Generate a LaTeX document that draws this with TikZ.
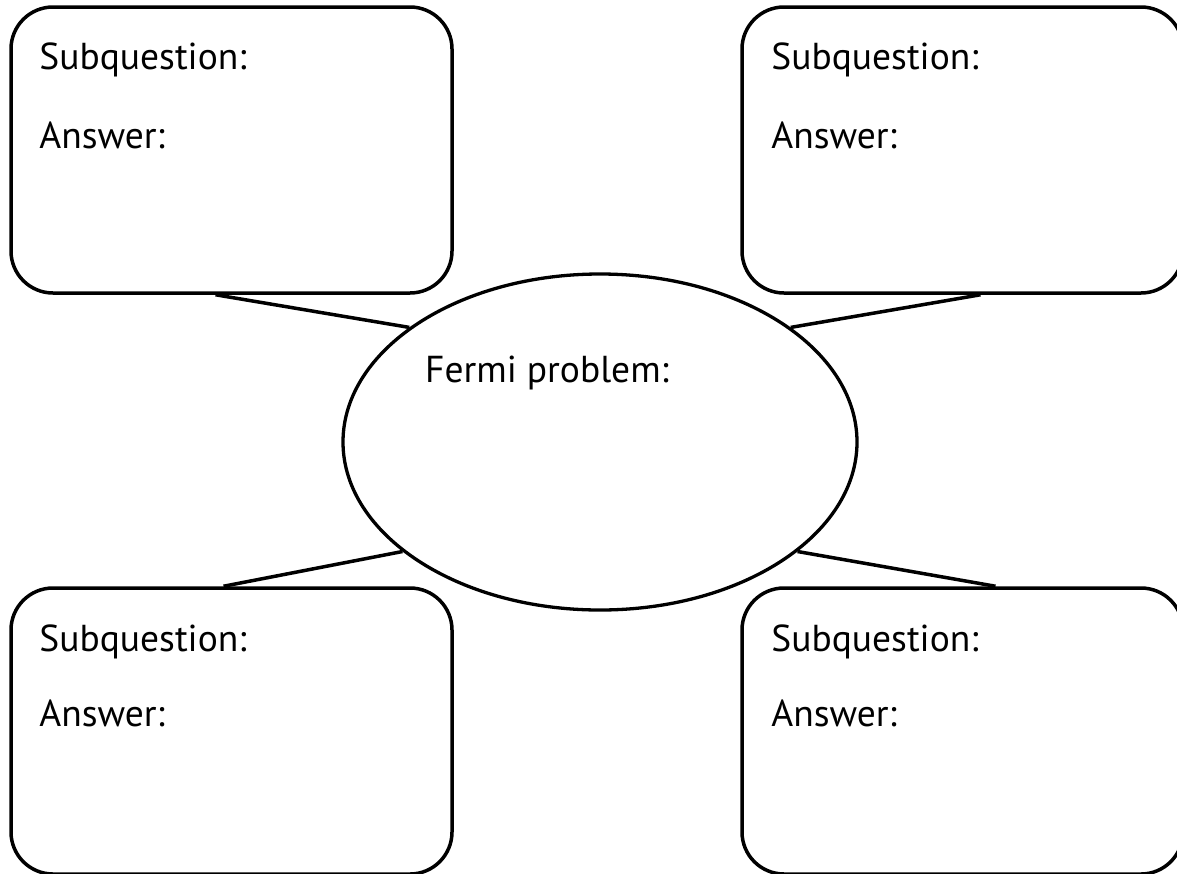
\documentclass[tikz,border=0pt]{standalone}
\usepackage{fontspec}
\setmainfont{PT Sans}
\usetikzlibrary{shapes.geometric, positioning, calc}

\begin{document}
\begin{tikzpicture}[
  x=1pt, y=-1pt,
  subbox/.style={rectangle, rounded corners=42pt, draw=black, line width=3.5pt,
                 minimum width=441pt, minimum height=286pt, inner sep=0pt},
  fermiellipse/.style={ellipse, draw=black, line width=3.3pt,
                 minimum width=514pt, minimum height=336pt, inner sep=0pt},
  boxtext/.style={anchor=base west, inner sep=0pt, font=\fontsize{37.5}{45}\selectfont},
  link/.style={line width=3.5pt, color=black}
]
\path[use as bounding box, clip] (0,0) rectangle (1177,873);

% four subquestion boxes
\node[subbox] (tl) at (231.5,150) {};
\node[subbox] (tr) at (962.5,150) {};
\node[subbox] (bl) at (231.5,731) {};
\node[subbox] (br) at (962.5,731) {};

% central Fermi problem
\node[fermiellipse] (fermi) at (600,442) {};
\node[boxtext] (fermilabel) at ([xshift=-175pt, yshift=60pt]fermi.center) {Fermi problem:};

\node[boxtext] (tlq) at ([xshift=30pt, yshift=-64pt]tl.north west) {Subquestion:};
\node[boxtext] (tla) at ([xshift=30pt, yshift=-143pt]tl.north west) {Answer:};
\node[boxtext] (trq) at ([xshift=31pt, yshift=-64pt]tr.north west) {Subquestion:};
\node[boxtext] (tra) at ([xshift=31pt, yshift=-143pt]tr.north west) {Answer:};
\node[boxtext] (blq) at ([xshift=30pt, yshift=-65pt]bl.north west) {Subquestion:};
\node[boxtext] (bla) at ([xshift=30pt, yshift=-140pt]bl.north west) {Answer:};
\node[boxtext] (brq) at ([xshift=31pt, yshift=-65pt]br.north west) {Subquestion:};
\node[boxtext] (bra) at ([xshift=31pt, yshift=-140pt]br.north west) {Answer:};

\draw[link] ([xshift=-16pt]tl.south) -- (fermi.149);
\draw[link] ([xshift=18pt]tr.south) -- (fermi.31);
\draw[link] ([xshift=-8pt]bl.north) -- (fermi.209);
\draw[link] ([xshift=33pt]br.north) -- (fermi.331);

\end{tikzpicture}
\end{document}
